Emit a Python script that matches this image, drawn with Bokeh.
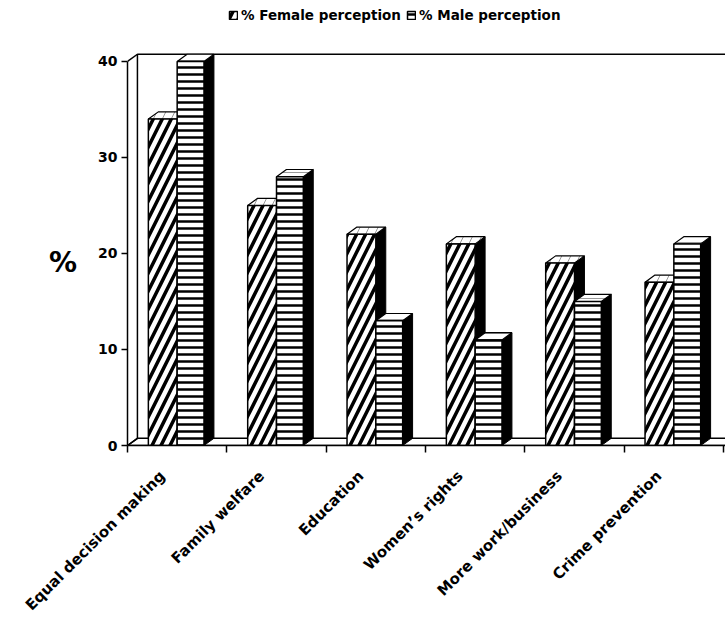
import math

from bokeh.embed import file_html
from bokeh.models import FixedTicker, Legend, LegendItem, Range1d
from bokeh.plotting import figure
from bokeh.resources import INLINE

# Survey data: share of respondents naming each benefit (%)
categories = [
    "Equal decision making",
    "Family welfare",
    "Education",
    "Women’s rights",
    "More work/business",
    "Crime prevention",
]
female = [34, 25, 22, 21, 19, 17]
male = [40, 28, 13, 11, 15, 21]
y_ticks = [0, 10, 20, 30, 40]
series_names = ["% Female perception", "% Male perception"]

# Geometry of the pseudo 3-D boxes (category units / value units)
DX, DY = 0.10, 0.75
F0, F1 = 0.21, 0.50      # female box front face inside each category slot
M0, M1 = 0.50, 0.77      # male box front face
X_END = 6.02
Y_END = 46.35
Y_MAX = 40

FONT = "DejaVu Sans"

p = figure(
    width=725, height=625,
    x_range=Range1d(0, X_END), y_range=Range1d(0, Y_END),
    output_backend="svg", toolbar_location=None,
    min_border_left=127, min_border_right=0,
    min_border_top=0, min_border_bottom=180,
)
p.grid.visible = False
p.outline_line_color = None
p.background_fill_color = "white"

# floor slab and back wall
n = len(categories)
p.patch([0, X_END, X_END + DX, DX], [0, 0, DY, DY],
        fill_color="white", line_color="black", line_width=1.5)
p.line([DX, DX, X_END + DX], [DY, Y_MAX + DY, Y_MAX + DY],
       line_color="black", line_width=1.5)
p.segment(x0=[0, 0], y0=[0, Y_MAX], x1=[DX, DX], y1=[DY, Y_MAX + DY],
          line_color="black", line_width=1.5)


def boxes(values, a, b, hatch, scale, weight):
    x0 = [i + a for i in range(n)]
    x1 = [i + b for i in range(n)]
    side_x = [[r, r + DX, r + DX, r] for r in x1]
    side_y = [[0, DY, v + DY, v] for v in values]
    top_x = [[l, r, r + DX, l + DX] for l, r in zip(x0, x1)]
    top_y = [[v, v, v + DY, v + DY] for v in values]
    p.patches(side_x, side_y, fill_color="black", line_color="black", line_width=1)
    p.patches(top_x, top_y, fill_color="white", line_color="black", line_width=1.2,
              hatch_pattern=hatch, hatch_color="black", hatch_scale=scale,
              hatch_weight=0.8, hatch_alpha=0.5)
    return p.quad(left=x0, right=x1, bottom=0, top=values,
                  fill_color="white", line_color="black", line_width=1.5,
                  hatch_pattern=hatch, hatch_color="black",
                  hatch_scale=scale, hatch_weight=weight)


r_f = boxes(female, F0, F1, "/", 18, 3.5)
r_m = boxes(male, M0, M1, "-", 7, 2.5)

# value axis
yax = p.yaxis[0]
yax.ticker = FixedTicker(ticks=y_ticks)
yax.bounds = (0, Y_MAX)
yax.axis_line_width = 1.5
yax.major_tick_line_width = 1.5
yax.major_tick_out = 6
yax.major_tick_in = 0
yax.minor_tick_line_color = None
yax.major_label_standoff = 4
yax.major_label_text_font = FONT
yax.major_label_text_font_style = "bold"
yax.major_label_text_font_size = "14px"
yax.major_label_text_color = "black"
# two leading blank lines drop the symbol to mid-height of the value scale
yax.axis_label = "\n\n%"
yax.axis_label_text_font = FONT
yax.axis_label_text_font_style = "bold"
yax.axis_label_text_font_size = "28px"
yax.axis_label_text_color = "black"
yax.axis_label_standoff = 18
try:
    yax.axis_label_orientation = "horizontal"
except AttributeError:
    pass

# category axis: ticks on the slot boundaries, slanted names
label_pos = [i + 0.35 for i in range(n)]
xax = p.xaxis[0]
xax.ticker = FixedTicker(ticks=label_pos, minor_ticks=list(range(n + 1)))
xax.major_label_overrides = {pos: name for pos, name in zip(label_pos, categories)}
xax.major_label_orientation = math.pi / 4
xax.axis_line_width = 1.5
xax.major_tick_line_color = None
xax.minor_tick_line_width = 1.5
xax.minor_tick_out = 7
xax.minor_tick_in = 0
xax.major_label_standoff = 21
xax.major_label_text_font = FONT
xax.major_label_text_font_style = "bold"
xax.major_label_text_font_size = "15px"
xax.major_label_text_color = "black"

legend = Legend(
    items=[LegendItem(label=series_names[0], renderers=[r_f]),
           LegendItem(label=series_names[1], renderers=[r_m])],
    orientation="horizontal", location=(101, 422),
    padding=0, margin=0, spacing=5, label_standoff=3,
    glyph_width=10, glyph_height=10,
    border_line_color=None, background_fill_alpha=0,
    label_text_font=FONT, label_text_font_style="bold",
    label_text_font_size="13.5px", label_text_color="black",
)
p.add_layout(legend)

open("out.html", "w").write(file_html(p, INLINE))
